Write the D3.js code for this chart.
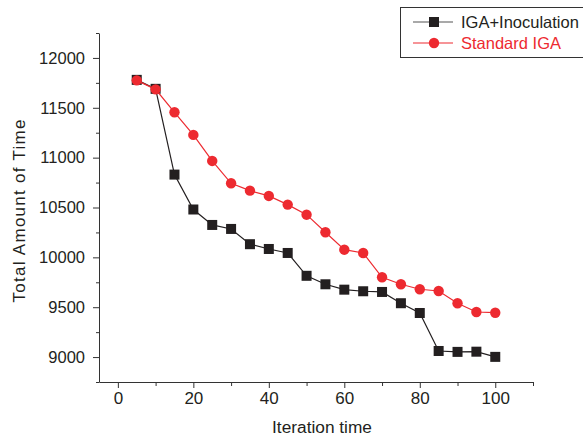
<!DOCTYPE html>
<html>
<head>
<meta charset="utf-8">
<script src="https://cdn.jsdelivr.net/npm/d3@7"></script>
<style>
  body { margin: 0; background: #fff; }
  text { font-family: "Liberation Sans", Arial, sans-serif; fill: #231f20; }
</style>
</head>
<body>
<div id="chart"></div>
<script>
// data
const iterations = [5, 10, 15, 20, 25, 30, 35, 40, 45, 50, 55, 60, 65, 70, 75, 80, 85, 90, 95, 100];
const inoculation = [11780, 11690, 10830, 10480, 10325, 10285, 10132, 10084, 10044, 9815, 9730, 9676, 9660, 9653, 9540, 9442, 9061, 9052, 9054, 9002];
const standard = [11775, 11685, 11455, 11228, 10967, 10743, 10669, 10616, 10529, 10428, 10252, 10077, 10044, 9800, 9730, 9680, 9663, 9540, 9452, 9445];
const seriesNames = ["IGA+Inoculation", "Standard IGA"];
const xMajor = [0, 20, 40, 60, 80, 100];
const xMinor = [10, 30, 50, 70, 90, 110];
const yMajor = [9000, 9500, 10000, 10500, 11000, 11500, 12000];
const yMinor = [8750, 9250, 9750, 10250, 10750, 11250, 11750, 12250];

const W = 583, H = 439;
const black = "#231f20", red = "#ed2a30";

const svg = d3.select("#chart").append("svg")
    .attr("width", W)
    .attr("height", H);

const x = d3.scaleLinear().domain([-5, 110]).range([99, 533]);
const y = d3.scaleLinear().domain([8750, 12250]).range([382, 33]);

// axes: major ticks with labels, minor ticks without
svg.append("g")
    .attr("transform", `translate(0,${y(8750)})`)
    .call(d3.axisBottom(x).tickValues(xMajor).tickSize(6).tickSizeOuter(0).tickPadding(4))
    .call(g => g.selectAll("text").style("font-size", "17px"));
svg.append("g")
    .attr("transform", `translate(0,${y(8750)})`)
    .call(d3.axisBottom(x).tickValues(xMinor).tickSize(4).tickFormat(""))
    .call(g => g.select(".domain").remove());

svg.append("g")
    .attr("transform", `translate(${x(-5)},0)`)
    .call(d3.axisLeft(y).tickValues(yMajor).tickSize(6).tickSizeOuter(0).tickPadding(8).tickFormat(d3.format("d")))
    .call(g => g.selectAll("text").style("font-size", "16.5px"));
svg.append("g")
    .attr("transform", `translate(${x(-5)},0)`)
    .call(d3.axisLeft(y).tickValues(yMinor).tickSize(3).tickFormat(""))
    .call(g => g.select(".domain").remove());

svg.selectAll(".domain, .tick line").attr("stroke", "#333").attr("stroke-width", 1);

// axis titles
svg.append("text")
    .attr("x", 322).attr("y", 433)
    .attr("text-anchor", "middle")
    .style("font-size", "17.3px")
    .text("Iteration time");

svg.append("text")
    .attr("transform", "translate(25,211) rotate(-90)")
    .attr("text-anchor", "middle")
    .style("font-size", "17px")
    .attr("textLength", 183)
    .text("Total Amount of Time");

// series
const line = d3.line().x(d => x(d[0])).y(d => y(d[1]));
const ptsA = iterations.map((d, i) => [d, inoculation[i]]);
const ptsB = iterations.map((d, i) => [d, standard[i]]);

svg.append("path").datum(ptsA)
    .attr("d", line).attr("fill", "none").attr("stroke", black).attr("stroke-width", 1.2);
svg.selectAll(".sq").data(ptsA).enter().append("rect")
    .attr("x", d => x(d[0]) - 5).attr("y", d => y(d[1]) - 5)
    .attr("width", 10).attr("height", 10)
    .attr("fill", black);

svg.append("path").datum(ptsB)
    .attr("d", line).attr("fill", "none").attr("stroke", red).attr("stroke-width", 1.2);
svg.selectAll(".dot").data(ptsB).enter().append("circle")
    .attr("cx", d => x(d[0])).attr("cy", d => y(d[1]))
    .attr("r", 5.2)
    .attr("fill", red);

// legend
const lg = svg.append("g");
lg.append("rect")
    .attr("x", 400.5).attr("y", 7.5).attr("width", 190).attr("height", 50)
    .attr("fill", "#fff").attr("stroke", "#333").attr("stroke-width", 1);
[[black, 22], [red, 43]].forEach(([c, ly], i) => {
  lg.append("line").attr("x1", 413).attr("x2", 453).attr("y1", ly).attr("y2", ly)
      .attr("stroke", i === 0 ? "#555" : red).attr("stroke-width", 1.2);
  if (i === 0) {
    lg.append("rect").attr("x", 429).attr("y", ly - 5).attr("width", 10).attr("height", 10).attr("fill", black);
  } else {
    lg.append("circle").attr("cx", 434).attr("cy", ly).attr("r", 5.2).attr("fill", red);
  }
  lg.append("text").attr("x", 461).attr("y", ly + 6)
      .style("font-size", "16.5px")
      .style("fill", i === 0 ? black : red)
      .text(seriesNames[i]);
});
</script>
</body>
</html>
